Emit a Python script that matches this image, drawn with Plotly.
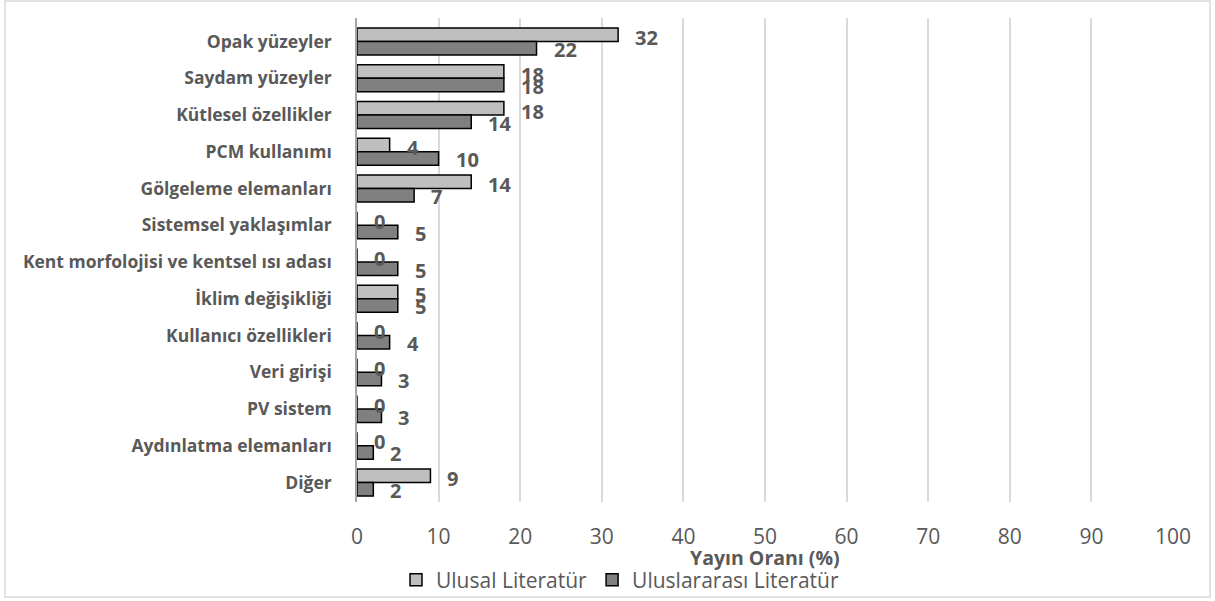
import plotly.graph_objects as go

categories = ["Opak yüzeyler", "Saydam yüzeyler", "Kütlesel özellikler", "PCM kullanımı",
              "Gölgeleme elemanları", "Sistemsel yaklaşımlar", "Kent morfolojisi ve kentsel ısı adası",
              "İklim değişikliği", "Kullanıcı özellikleri", "Veri girişi", "PV sistem",
              "Aydınlatma elemanları", "Diğer"]
ulusal = [32, 18, 18, 4, 14, 0, 0, 5, 0, 0, 0, 0, 9]
uluslararasi = [22, 18, 14, 10, 7, 5, 5, 5, 4, 3, 3, 2, 2]
series_names = ["Ulusal Literatür", "Uluslararası Literatür"]
x_ticks = list(range(0, 101, 10))

W, H = 1215, 601
L, R, T, B = 357, 1173, 18, 502
pw, ph = R - L, B - T

def px_x(p):
    return (p - L) / pw

def px_y(p):
    return (B - p) / ph

FONT = "Open Sans, sans-serif"
GRAY = "#595959"

fig = go.Figure()
fig.add_trace(go.Bar(y=categories, x=ulusal, orientation="h", name=series_names[0],
                     marker=dict(color="#bfbfbf", line=dict(color="black", width=1.5))))
fig.add_trace(go.Bar(y=categories, x=uluslararasi, orientation="h", name=series_names[1],
                     marker=dict(color="#808080", line=dict(color="black", width=1.5))))

annotations = []
for c, v in zip(categories, ulusal):
    annotations.append(dict(x=v, y=c, xref="x", yref="y", text=str(v), showarrow=False,
                            xanchor="left", yanchor="middle", xshift=15, yshift=4,
                            font=dict(family=FONT, size=20, color=GRAY, weight="bold")))
for c, v in zip(categories, uluslararasi):
    annotations.append(dict(x=v, y=c, xref="x", yref="y", text=str(v), showarrow=False,
                            xanchor="left", yanchor="middle", xshift=15, yshift=-8,
                            font=dict(family=FONT, size=20, color=GRAY, weight="bold")))
annotations.append(dict(x=0.5, y=px_y(557), xref="paper", yref="paper", text="Yayın Oranı (%)",
                        showarrow=False, xanchor="center", yanchor="middle",
                        font=dict(family=FONT, size=19.5, color=GRAY, weight="bold")))

fig.update_layout(
    width=W, height=H,
    margin=dict(l=L, r=W - R, t=T, b=H - B, autoexpand=False),
    paper_bgcolor="white", plot_bgcolor="white",
    barmode="group", bargap=0.26, bargroupgap=0,
    font=dict(family=FONT, color=GRAY),
    showlegend=True,
    legend=dict(orientation="h", x=px_x(620), y=px_y(580), xanchor="center", yanchor="middle",
                font=dict(family=FONT, size=21, color=GRAY), bgcolor="rgba(0,0,0,0)",
                itemwidth=30, traceorder="normal", tracegroupgap=0),
    annotations=annotations,
    shapes=[dict(type="rect", xref="paper", yref="paper", x0=px_x(5), x1=px_x(1210),
                 y0=px_y(597), y1=px_y(1), line=dict(color="#d9d9d9", width=1.5),
                 fillcolor="rgba(0,0,0,0)", layer="below")],
)
fig.update_xaxes(range=[0, 100], tickvals=x_ticks, showgrid=True, gridcolor="#d9d9d9", gridwidth=1.5,
                 zeroline=False, showline=False, ticks="", ticklabelstandoff=20,
                 tickfont=dict(family=FONT, size=21, color=GRAY), fixedrange=True)
fig.update_yaxes(autorange="reversed", showline=True, linecolor="#a6a6a6", linewidth=1.5,
                 ticks="", ticklabelstandoff=20, showgrid=False,
                 tickfont=dict(family=FONT, size=17.5, color=GRAY, weight="bold"))

fig.write_html("out.html", config={"displayModeBar": False})
with open("out.html", encoding="utf-8") as f:
    html = f.read()
html = html.replace("<head>", "<head><style>html,body{margin:0;padding:0;overflow:hidden;}</style>", 1)
with open("out.html", "w", encoding="utf-8") as f:
    f.write(html)
